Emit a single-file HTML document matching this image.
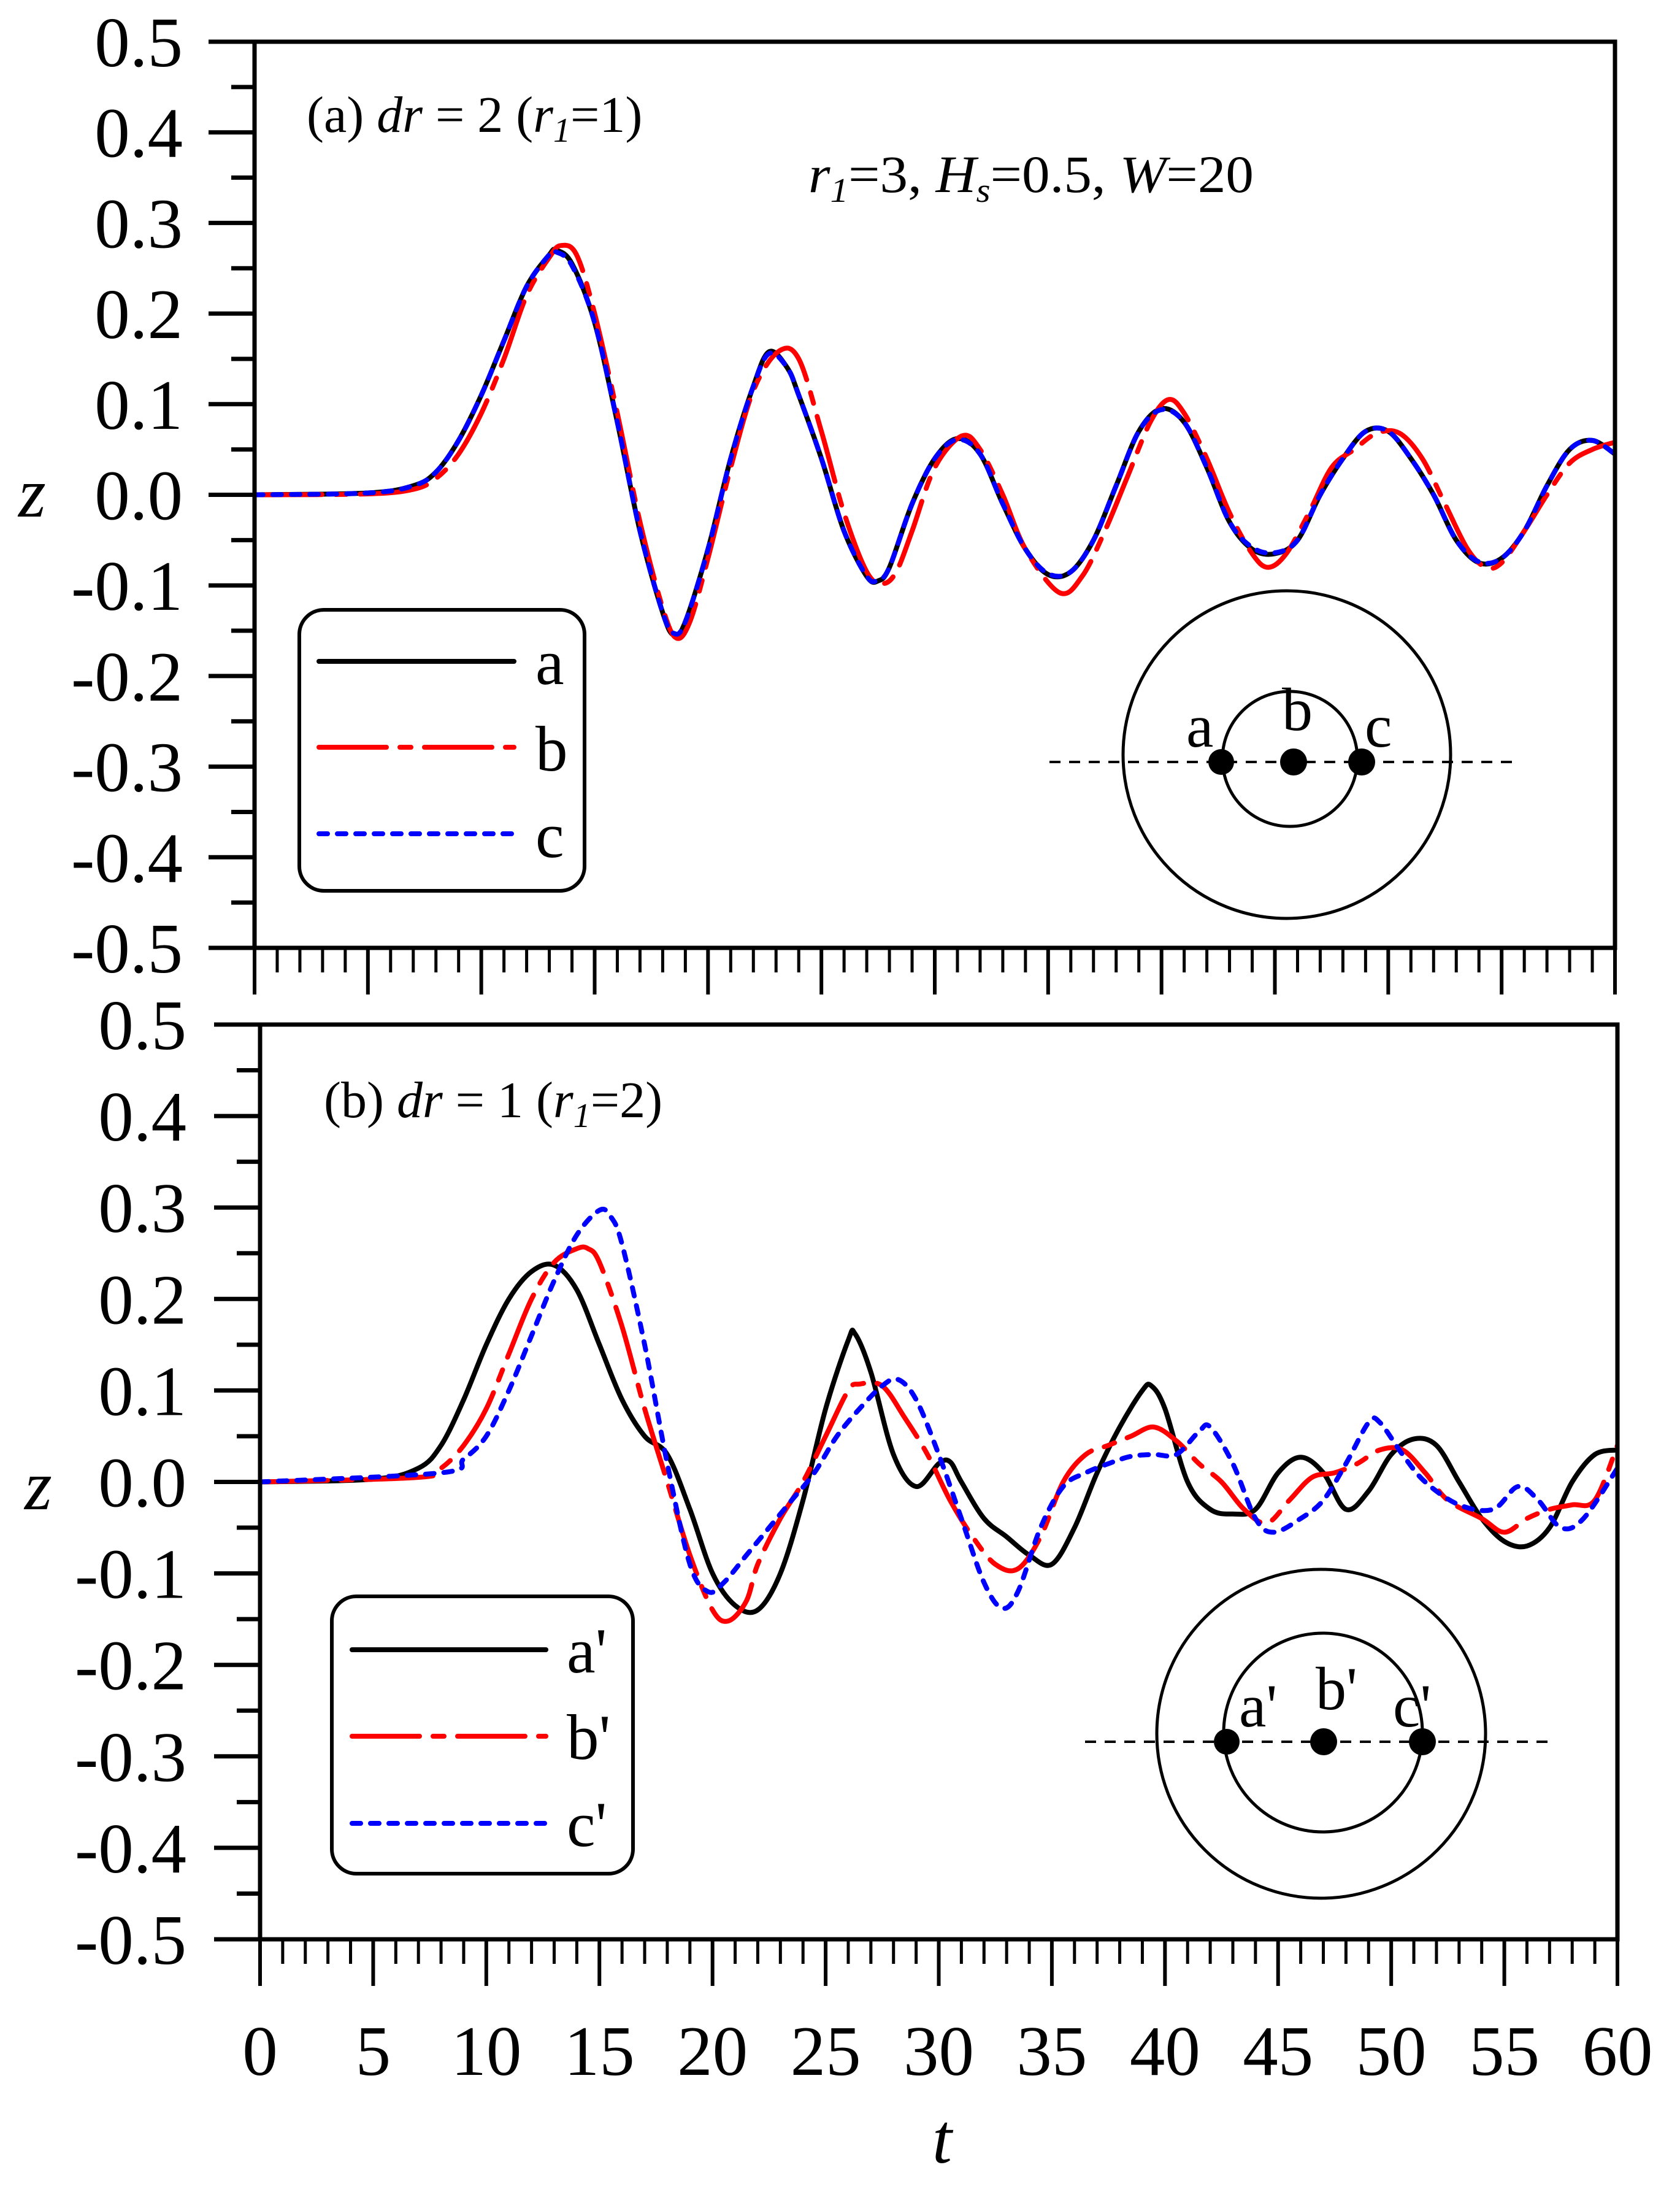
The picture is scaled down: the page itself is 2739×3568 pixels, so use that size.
<!DOCTYPE html>
<html><head><meta charset="utf-8"><style>
html,body{margin:0;padding:0;background:#fff}
svg{display:block}
text{font-family:"Liberation Serif",serif;fill:#000}
</style></head><body>
<svg id="fig" width="2739" height="3568" viewBox="0 0 2739 3568" xmlns="http://www.w3.org/2000/svg">
<rect x="0" y="0" width="2739" height="3568" fill="#fff"/>
</svg>
<script>
const tTicks=[0,5,10,15,20,25,30,35,40,45,50,55,60];
const tTickLabels=["0","5","10","15","20","25","30","35","40","45","50","55","60"];
const zTicks=[0.5,0.4,0.3,0.2,0.1,0.0,-0.1,-0.2,-0.3,-0.4,-0.5];
const zTickLabels=["0.5","0.4","0.3","0.2","0.1","0.0","-0.1","-0.2","-0.3","-0.4","-0.5"];

const aT=[0,5,7,8,9,10,11,12,13,13.3,14,15,16,17,18,18.5,19,20,21,22,22.7,23.5,24,25,26,27,27.5,28,29,30,31,32,33,34,35,36,37,38,39,40,41,42,43,44,45,46,47,48,49,50,51,52,53,54,55,56,57,58,59,60];
const aZ=[0,0.002,0.01,0.025,0.06,0.11,0.17,0.23,0.265,0.27,0.255,0.19,0.08,-0.04,-0.13,-0.155,-0.14,-0.06,0.04,0.12,0.158,0.14,0.11,0.04,-0.04,-0.09,-0.095,-0.08,-0.01,0.04,0.062,0.045,-0.01,-0.06,-0.088,-0.085,-0.05,0.01,0.07,0.095,0.08,0.03,-0.03,-0.06,-0.065,-0.05,0.0,0.04,0.07,0.07,0.04,0.0,-0.05,-0.075,-0.07,-0.04,0.01,0.05,0.06,0.045];
const bT=[0,5,7,8,9,10,11,12,13,13.5,14.2,15,16,17,18,18.6,19.2,20,21,22,23.1,24,25,26,27,27.7,28.3,29,30,31.2,32,33,34,35.5,36.5,37.5,38.5,39.5,40.3,41,42,43,44,44.7,45.5,46.5,47.5,48.5,49.5,50.5,51.5,52.5,53.5,54.3,55,56,57,58,59,60];
const bZ=[0,0.001,0.006,0.018,0.045,0.09,0.15,0.22,0.262,0.275,0.265,0.2,0.09,-0.03,-0.125,-0.158,-0.14,-0.07,0.03,0.115,0.158,0.15,0.07,-0.02,-0.085,-0.098,-0.085,-0.04,0.03,0.065,0.05,0.0,-0.06,-0.108,-0.09,-0.04,0.02,0.08,0.105,0.09,0.04,-0.02,-0.065,-0.08,-0.065,-0.02,0.03,0.05,0.068,0.068,0.04,-0.01,-0.06,-0.08,-0.075,-0.04,0.0,0.035,0.05,0.058];
const cT=aT.slice();
const cZ=[0,0.002,0.01,0.025,0.06,0.11,0.17,0.23,0.265,0.268,0.253,0.19,0.08,-0.04,-0.13,-0.153,-0.14,-0.06,0.04,0.12,0.156,0.14,0.11,0.04,-0.04,-0.09,-0.094,-0.08,-0.01,0.04,0.061,0.045,-0.01,-0.06,-0.087,-0.085,-0.05,0.01,0.07,0.094,0.08,0.03,-0.03,-0.058,-0.064,-0.05,0.0,0.04,0.07,0.07,0.04,0.0,-0.05,-0.074,-0.07,-0.04,0.01,0.05,0.06,0.045];

const apT=[0,5,7,8,9,10,11,12,13,14,15,16,17,18,19,20,21,22,23,24,25,26,26.3,27,28,29,30,30.5,31,32,33,34,35,36,37,38,39,39.4,40,41,42,43,44,45,46,47,48,49,50,51,52,53,54,55,56,57,58,59,60];
const apZ=[0,0.003,0.015,0.04,0.09,0.15,0.2,0.23,0.237,0.21,0.15,0.09,0.05,0.03,-0.03,-0.1,-0.135,-0.14,-0.1,-0.02,0.08,0.155,0.162,0.12,0.03,-0.005,0.02,0.022,0.0,-0.04,-0.06,-0.08,-0.09,-0.05,0.01,0.06,0.1,0.105,0.08,0.0,-0.03,-0.035,-0.03,0.01,0.027,0.01,-0.03,-0.01,0.03,0.047,0.04,0.0,-0.04,-0.065,-0.07,-0.05,0.0,0.03,0.035];
const bpT=[0,7,8,9,10,11,12,13,14,14.5,15,16,17,18,19,20,20.7,21.5,22,23,24,25,26,26.5,27.5,28.5,29.5,30.5,31.5,32.5,33.5,34.5,35.5,36.5,37.5,38.5,39.5,40.5,41.5,42.5,43.5,44.5,45.5,46.5,47.5,48.5,49.5,50.5,51.5,52.5,54,55,56,57,58,59,60];
const bpZ=[0,0.005,0.015,0.04,0.08,0.14,0.2,0.24,0.255,0.255,0.24,0.17,0.08,0.0,-0.08,-0.14,-0.152,-0.13,-0.09,-0.04,0.0,0.05,0.1,0.107,0.105,0.07,0.03,-0.02,-0.06,-0.09,-0.095,-0.06,0.0,0.03,0.04,0.05,0.06,0.045,0.02,0.0,-0.03,-0.045,-0.02,0.005,0.01,0.02,0.035,0.035,0.01,-0.02,-0.04,-0.055,-0.04,-0.03,-0.025,-0.02,0.04];
const cpT=[0,8,9,10,11,12,13,14,15,15.5,16,17,18,19,19.8,20.5,21.5,22.5,23.5,24.5,25.5,26.5,27.5,28.2,29,30,31,32,32.8,33.5,34.5,35.5,36.5,37.5,38.5,39.5,40.5,41.5,42,43,44,44.8,46,47,48,49,49.5,50.5,51.5,53,54.5,55.6,56.5,57.5,58.5,60];
const cpZ=[0,0.01,0.025,0.05,0.1,0.16,0.22,0.27,0.297,0.29,0.26,0.15,0.02,-0.09,-0.12,-0.11,-0.08,-0.05,-0.02,0.01,0.05,0.08,0.105,0.112,0.09,0.03,-0.04,-0.11,-0.138,-0.12,-0.05,-0.005,0.01,0.02,0.028,0.03,0.03,0.055,0.06,0.02,-0.04,-0.055,-0.04,-0.02,0.02,0.065,0.065,0.03,0.0,-0.025,-0.03,-0.005,-0.02,-0.05,-0.04,0.015];

const NS="http://www.w3.org/2000/svg";
const svg=document.getElementById('fig');
function mk(tag,attrs,parent){const e=document.createElementNS(NS,tag);for(const k in attrs)e.setAttribute(k,attrs[k]);(parent||svg).appendChild(e);return e;}
function spline(pts){let d=`M${pts[0][0].toFixed(1)},${pts[0][1].toFixed(1)}`;
 for(let i=0;i<pts.length-1;i++){const p0=pts[Math.max(0,i-1)],p1=pts[i],p2=pts[i+1],p3=pts[Math.min(pts.length-1,i+2)];
  const c1x=p1[0]+(p2[0]-p0[0])/6,c1y=p1[1]+(p2[1]-p0[1])/6,c2x=p2[0]-(p3[0]-p1[0])/6,c2y=p2[1]-(p3[1]-p1[1])/6;
  d+=` C${c1x.toFixed(1)},${c1y.toFixed(1)} ${c2x.toFixed(1)},${c2y.toFixed(1)} ${p2[0].toFixed(1)},${p2[1].toFixed(1)}`;}
 return d;}

const panels=[
 {id:'a',L:415,R:2633,T:68,B:1545,series:[[aT,aZ,'#000','none','a'],[bT,bZ,'#ff0000','110 22 18 22','b'],[cT,cZ,'#0000ff','14 16','c']]},
 {id:'b',L:424,R:2637,T:1670,B:3161,series:[[apT,apZ,'#000','none','a-prime'],[bpT,bpZ,'#ff0000','110 22 18 22','b-prime'],[cpT,cpZ,'#0000ff','14 16','c-prime']]}
];
panels.forEach((p,pi)=>{
 const g=mk('g',{});
 
 
 const xs=t=>p.L+(t-0)/60*(p.R-p.L);
 const ys=z=>p.T+(0.5-z)/1.0*(p.B-p.T);
 const clipId='clip'+pi;
 const cp=mk('clipPath',{id:clipId},g);mk('rect',{x:p.L,y:p.T,width:p.R-p.L,height:p.B-p.T},cp);
 // series
 p.series.forEach(s=>{
  const pts=s[0].map((t,i)=>[xs(t),ys(s[1][i])]);
  const path=mk('path',{d:spline(pts),fill:'none',stroke:s[2],'stroke-width':8,'stroke-linecap':'round','stroke-linejoin':'round','clip-path':`url(#${clipId})`},g);
  if(s[3]!=='none')path.setAttribute('stroke-dasharray',s[3]);
  
  
 });
 // frame
 const fr=mk('rect',{x:p.L,y:p.T,width:p.R-p.L,height:p.B-p.T,fill:'none',stroke:'#000','stroke-width':7},g);
 
 
 // y ticks
 zTicks.forEach((z,i)=>{
  const y=ys(z);
  mk('line',{x1:p.L-75,x2:p.L,y1:y,y2:y,stroke:'#000','stroke-width':7},g);
  if(i<zTicks.length-1){const ym=ys(z-0.05);mk('line',{x1:p.L-38,x2:p.L,y1:ym,y2:ym,stroke:'#000','stroke-width':7},g);}
  const tx=mk('text',{x:p.L-117+(pi?-3:0),y:y+40,'font-size':115,'text-anchor':'end'},g);
  tx.textContent=zTickLabels[i];
  
  
 });
 // x ticks
 for(let t=0;t<=60;t++){
  const x=xs(t);const major=t%5===0;
  mk('line',{x1:x,x2:x,y1:p.B,y2:p.B+(major?76:40),stroke:'#000','stroke-width':major?6:5},g);
 }
 if(pi===1){
  tTicks.forEach((t,i)=>{
   const tx=mk('text',{x:xs(t),y:3382,'font-size':115,'text-anchor':'middle'},g);
   tx.textContent=tTickLabels[i];
   
   
  });
 }
});
</script>
<svg width="2739" height="3568" viewBox="0 0 2739 3568" style="position:absolute;left:0;top:0" xmlns="http://www.w3.org/2000/svg">
<text x="30" y="842" font-size="115" font-style="italic">z</text>
<text x="40" y="2460" font-size="115" font-style="italic">z</text>
<text x="1520" y="3525" font-size="115" font-style="italic">t</text>

<text x="500" y="215" font-size="84">(a) <tspan font-style="italic">dr</tspan> = 2 (<tspan font-style="italic">r</tspan><tspan font-style="italic" font-size="56" dy="16">1</tspan><tspan dy="-16">=1)</tspan></text>
<text x="1318" y="313" font-size="86" textLength="726" lengthAdjust="spacingAndGlyphs"><tspan font-style="italic">r</tspan><tspan font-style="italic" font-size="56" dy="16">1</tspan><tspan dy="-16">=3, </tspan><tspan font-style="italic">H</tspan><tspan font-style="italic" font-size="56" dy="16">s</tspan><tspan dy="-16">=0.5, </tspan><tspan font-style="italic">W</tspan>=20</text>
<text x="528" y="1821" font-size="84">(b)  <tspan font-style="italic">dr</tspan> = 1 (<tspan font-style="italic">r</tspan><tspan font-style="italic" font-size="56" dy="16">1</tspan><tspan dy="-16">=2)</tspan></text>

<g>
<rect x="488" y="994" width="465" height="458" rx="40" fill="#fff" stroke="#000" stroke-width="6"/>
<line x1="520" x2="838" y1="1078" y2="1078" stroke="#000" stroke-width="8" stroke-linecap="round"/>
<line x1="520" x2="838" y1="1218" y2="1218" stroke="#f00" stroke-width="8" stroke-linecap="round" stroke-dasharray="110 22 18 22"/>
<line x1="520" x2="838" y1="1359" y2="1359" stroke="#00f" stroke-width="8" stroke-linecap="round" stroke-dasharray="14 16"/>
<text x="873" y="1115" font-size="105">a</text>
<text x="873" y="1256" font-size="105">b</text>
<text x="873" y="1397" font-size="105">c</text>
</g>
<g>
<rect x="541" y="2602" width="491" height="452" rx="40" fill="#fff" stroke="#000" stroke-width="6"/>
<line x1="574" x2="890" y1="2689" y2="2689" stroke="#000" stroke-width="8" stroke-linecap="round"/>
<line x1="574" x2="890" y1="2830" y2="2830" stroke="#f00" stroke-width="8" stroke-linecap="round" stroke-dasharray="110 22 18 22"/>
<line x1="574" x2="890" y1="2972" y2="2972" stroke="#00f" stroke-width="8" stroke-linecap="round" stroke-dasharray="14 16"/>
<text x="924" y="2726" font-size="105">a'</text>
<text x="924" y="2867" font-size="105">b'</text>
<text x="924" y="3009" font-size="105">c'</text>
</g>

<g fill="none" stroke="#000">
<circle cx="2098" cy="1230" r="267" stroke-width="5"/>
<circle cx="2103" cy="1237" r="110" stroke-width="5"/>
<line x1="1711" x2="2469" y1="1242" y2="1242" stroke-width="4" stroke-dasharray="18 14"/>
<circle cx="1991" cy="1242" r="21" fill="#000" stroke="none"/>
<circle cx="2109" cy="1242" r="22" fill="#000" stroke="none"/>
<circle cx="2220" cy="1242" r="22" fill="#000" stroke="none"/>
<text x="1934" y="1217" font-size="100" stroke="none">a</text>
<text x="2090" y="1190" font-size="100" stroke="none">b</text>
<text x="2225" y="1217" font-size="100" stroke="none">c</text>
</g>
<g fill="none" stroke="#000">
<circle cx="2154" cy="2826" r="268" stroke-width="5"/>
<circle cx="2157" cy="2824" r="162" stroke-width="5"/>
<line x1="1769" x2="2527" y1="2839" y2="2839" stroke-width="4" stroke-dasharray="18 14"/>
<circle cx="2000" cy="2839" r="21" fill="#000" stroke="none"/>
<circle cx="2158" cy="2839" r="22" fill="#000" stroke="none"/>
<circle cx="2319" cy="2839" r="22" fill="#000" stroke="none"/>
<text x="2020" y="2814" font-size="100" stroke="none">a'</text>
<text x="2145" y="2786" font-size="100" stroke="none">b'</text>
<text x="2271" y="2814" font-size="100" stroke="none">c'</text>
</g>
</svg>
</body></html>
